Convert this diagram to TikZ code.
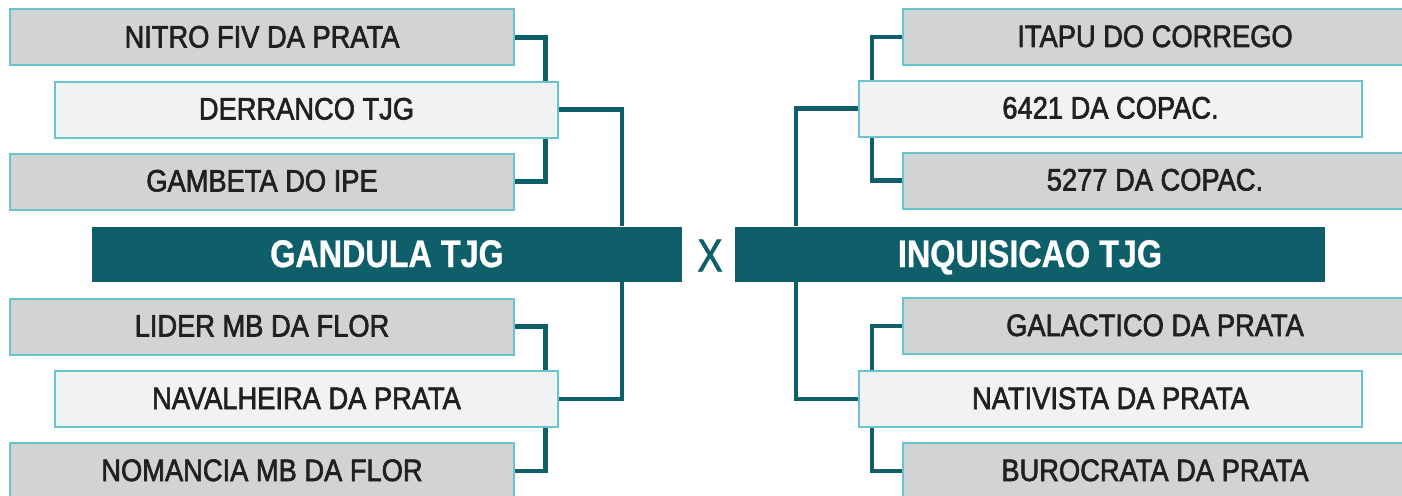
\documentclass[tikz,border=0pt]{standalone}
\usepackage{fontspec}
\setmainfont{Liberation Sans}
\newfontfamily\teamfont[FakeStretch=0.88,FakeBold=2]{Liberation Sans}
\newfontfamily\finalfont[FakeStretch=0.84,FakeBold=0.8]{Liberation Sans}
\newfontfamily\versusfont[FakeStretch=0.82,FakeBold=1.5]{Liberation Sans}
\usetikzlibrary{backgrounds}
\definecolor{grayc}{HTML}{D1D3D5}
\definecolor{lightc}{HTML}{F0F2F4}
\definecolor{bordc}{HTML}{6AC4D0}
\definecolor{tealc}{HTML}{0E5F69}
\definecolor{txtc}{HTML}{231F20}
\tikzset{
  team/.style={draw=bordc, line width=2pt, fill=grayc, minimum width=504pt,
    minimum height=56pt, inner sep=0pt, text=txtc, text height=20pt, text depth=0pt,
    font=\teamfont\fontsize{31}{31}\selectfont},
  seed/.style={team, fill=lightc, minimum width=503pt},
  finalist/.style={fill=tealc, minimum width=590pt, minimum height=55pt,
    inner sep=0pt, text=white, text height=26pt, text depth=0pt,
    font=\finalfont\bfseries\fontsize{38.5}{38.5}\selectfont},
  versus/.style={inner sep=0pt, text=tealc, font=\versusfont\fontsize{46}{46}\selectfont},
  link/.style={draw=tealc, line width=4.5pt}
}
\begin{document}
\begin{tikzpicture}[x=1pt,y=-1pt]
\useasboundingbox (0,0) rectangle (1402,495);
% left side
\node[team] (nitro) at (262,37.5) {NITRO FIV DA PRATA};
\node[seed] (derr) at (306.5,109.5) {DERRANCO TJG};
\node[team] (gamb) at (262,181.5) {GAMBETA DO IPE};
\node[finalist] (gand) at (387,254) {GANDULA TJG};
\node[team] (lider) at (262,326.5) {LIDER MB DA FLOR};
\node[seed] (naval) at (306.5,399) {NAVALHEIRA DA PRATA};
\node[team] (noman) at (262,471) {NOMANCIA MB DA FLOR};
% versus
\node[versus] (vs) at (710,255.5) {X};
% right side
\node[team] (itapu) at (1155,37) {ITAPU DO CORREGO};
\node[seed] (c6421) at (1110.5,108.5) {6421 DA COPAC.};
\node[team] (c5277) at (1155,180.5) {5277 DA COPAC.};
\node[finalist] (inq) at (1030,254) {INQUISICAO TJG};
\node[team] (galac) at (1155,326) {GALACTICO DA PRATA};
\node[seed] (nativ) at (1110.5,399) {NATIVISTA DA PRATA};
\node[team] (buro) at (1155,471) {BUROCRATA DA PRATA};
% columns of the connectors
\coordinate (xa) at (545.5,0);
\coordinate (xb) at (622,0);
\coordinate (xc) at (872,0);
\coordinate (xd) at (796,0);
\begin{pgfonlayer}{background}
\draw[link] (nitro.east) -| (derr.north -| xa);
\draw[link] (gamb.east) -| (derr.south -| xa);
\draw[link] (derr.east) -| (gand.north -| xb);
\draw[link] (naval.east) -| (gand.south -| xb);
\draw[link] (lider.east) -| (naval.north -| xa);
\draw[link] (noman.east) -| (naval.south -| xa);
\draw[link] (itapu.west) -| (c6421.north -| xc);
\draw[link] (c5277.west) -| (c6421.south -| xc);
\draw[link] (c6421.west) -| (inq.north -| xd);
\draw[link] (nativ.west) -| (inq.south -| xd);
\draw[link] (galac.west) -| (nativ.north -| xc);
\draw[link] (buro.west) -| (nativ.south -| xc);
\end{pgfonlayer}
\end{tikzpicture}
\end{document}
